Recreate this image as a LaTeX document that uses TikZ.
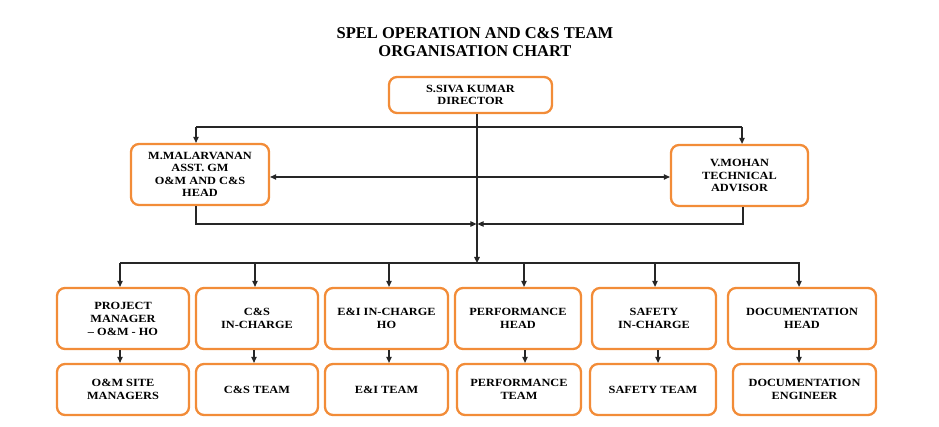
\documentclass[tikz,border=0pt]{standalone}
\usepackage{fontspec}
\setmainfont{Liberation Serif}
\newfontfamily\boxfont{Liberation Serif}[FakeStretch=1.12,Ligatures=TeX]
\usetikzlibrary{arrows.meta,calc}
\definecolor{boxorange}{HTML}{F28C38}
\tikzset{
  x=1pt,y=-1pt,
  orgbox/.style={draw=boxorange,line width=2.3pt,rounded corners=8pt,fill=white,
    align=center,inner sep=1pt,font=\boxfont\fontsize{11}{13}\selectfont\bfseries},
  conn/.style={draw=black!85,line width=1.1pt,-{Triangle[length=6pt,width=5.5pt]}},
  plain/.style={draw=black!85,line width=1.1pt},
  dconn/.style={draw=black!85,line width=1.1pt,{Triangle[length=6pt,width=5.5pt]}-{Triangle[length=6pt,width=5.5pt]}},
}
\begin{document}
\begin{tikzpicture}
\useasboundingbox (0,0) rectangle (939,427);
% title
\node[font=\fontsize{16.5}{18}\selectfont\bfseries,align=center] (title) at (475,42) {SPEL OPERATION AND C\&S TEAM\\ORGANISATION CHART};
% top level
\node[orgbox,minimum width=163pt,minimum height=36pt,font=\boxfont\fontsize{11}{12.3}\selectfont\bfseries] (dir) at (470.5,95) {S.SIVA KUMAR\\DIRECTOR};
\node[orgbox,minimum width=138pt,minimum height=61pt,font=\boxfont\fontsize{11}{12.3}\selectfont\bfseries] (mal) at (200,174.5) {M.MALARVANAN\\ASST. GM\\O\&M AND C\&S\\HEAD};
\node[orgbox,minimum width=137pt,minimum height=61pt,font=\boxfont\fontsize{11}{12.3}\selectfont\bfseries] (moh) at (739.5,175.5) {V.MOHAN\\TECHNICAL\\ADVISOR};
% row 1
\node[orgbox,minimum width=132pt,minimum height=61pt] (pm) at (123,318.5) {PROJECT\\MANAGER\\– O\&M - HO};
\node[orgbox,minimum width=122pt,minimum height=61pt] (cs) at (257,318.5) {C\&S\\IN-CHARGE};
\node[orgbox,minimum width=123pt,minimum height=61pt] (ei) at (386.5,318.5) {E\&I IN-CHARGE\\HO};
\node[orgbox,minimum width=126pt,minimum height=61pt] (perf) at (518,318.5) {PERFORMANCE\\HEAD};
\node[orgbox,minimum width=124pt,minimum height=61pt] (saf) at (654,318.5) {SAFETY\\IN-CHARGE};
\node[orgbox,minimum width=148pt,minimum height=61pt] (doc) at (802,318.5) {DOCUMENTATION\\HEAD};
% row 2
\node[orgbox,minimum width=132pt,minimum height=51pt] (om) at (123,389.5) {O\&M SITE\\MANAGERS};
\node[orgbox,minimum width=122pt,minimum height=51pt] (cst) at (257,389.5) {C\&S TEAM};
\node[orgbox,minimum width=123pt,minimum height=51pt] (eit) at (386.5,389.5) {E\&I TEAM};
\node[orgbox,minimum width=124pt,minimum height=51pt] (pt) at (519,389.5) {PERFORMANCE\\TEAM};
\node[orgbox,minimum width=126pt,minimum height=51pt] (st) at (653,389.5) {SAFETY TEAM};
\node[orgbox,minimum width=143pt,minimum height=51pt] (de) at (804.5,389.5) {DOCUMENTATION\\ENGINEER};
% hub coordinates
\coordinate (dirfoot) at ($(dir.south)+(6.5,0)$);
\coordinate (busA) at (477,127);
\coordinate (busB) at (477,224);
\coordinate (busC) at (477,263);
% director trunk
\draw[conn] (dirfoot) -- (busC);
% first bus
\draw[plain] (196,127) -- (742,127);
\draw[conn] (196,127) -- (196,0 |- mal.north);
\draw[conn] (742,127) -- (742,0 |- moh.north);
% double arrow
\draw[dconn] (mal.east |- 0,177) -- (moh.west |- 0,177);
% return lines
\draw[conn] (196,0 |- mal.south) -- (196,224) -- ($(busB)+(-0.6,0)$);
\draw[conn] (743,0 |- moh.south) -- (743,224) -- ($(busB)+(0.6,0)$);
% lower bus
\draw[plain] (120,263) -- (800,263);
\draw[conn] (120,263) -- (120,0 |- pm.north);
\draw[conn] (255,263) -- (255,0 |- cs.north);
\draw[conn] (389,263) -- (389,0 |- ei.north);
\draw[conn] (524,263) -- (524,0 |- perf.north);
\draw[conn] (655,263) -- (655,0 |- saf.north);
\draw[conn] (799,263) -- (799,0 |- doc.north);
% row links
\draw[conn] (120,0 |- pm.south) -- (120,0 |- om.north);
\draw[conn] (254,0 |- cs.south) -- (254,0 |- cst.north);
\draw[conn] (389,0 |- ei.south) -- (389,0 |- eit.north);
\draw[conn] (525,0 |- perf.south) -- (525,0 |- pt.north);
\draw[conn] (658,0 |- saf.south) -- (658,0 |- st.north);
\draw[conn] (799,0 |- doc.south) -- (799,0 |- de.north);
\end{tikzpicture}
\end{document}
